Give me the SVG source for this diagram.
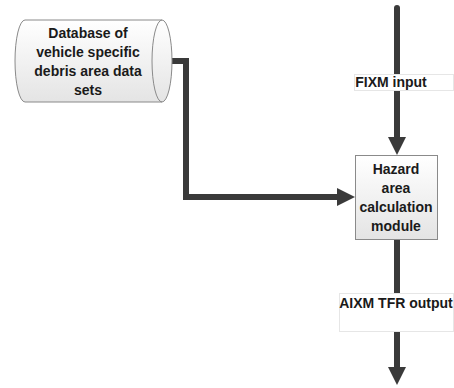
<svg xmlns="http://www.w3.org/2000/svg" width="454" height="388" viewBox="0 0 454 388">
<defs>
<linearGradient id="g" x1="0" y1="0" x2="0" y2="1"><stop offset="0" stop-color="#ffffff"/><stop offset="1" stop-color="#e4e4e4"/></linearGradient>
<marker id="ah" markerUnits="userSpaceOnUse" markerWidth="20" markerHeight="20" refX="8" refY="9" orient="auto"><path d="M0,0 L18,9 L0,18 Z" fill="#3a3a3a"/></marker>
</defs>
<style>
.t{font-family:"Liberation Sans",Arial,sans-serif;font-weight:bold;font-size:14px;fill:#1a1a1a;text-anchor:middle}
.c{fill:none;stroke:#3a3a3a;stroke-width:6;stroke-linejoin:miter}
.n{fill:url(#g);stroke:#8a8a8a;stroke-width:1}
.lb{fill:#ffffff;stroke:#e6e6e6;stroke-width:1}
</style>
<rect width="454" height="388" fill="#ffffff"/>
<g id="connectors">
<path class="c" d="M160,61 H186 V197 H345" stroke-linecap="round" marker-end="url(#ah)"/>
<path class="c" d="M397,8 V145" stroke-linecap="round" marker-end="url(#ah)"/>
<path class="c" d="M397,239 V375" marker-end="url(#ah)"/>
<g id="label-fixm">
<rect class="lb" x="354.5" y="74.5" width="99" height="16"/>
<text class="t" x="391" y="87" text-anchor="middle">FIXM input</text>
</g>
<g id="label-aixm">
<rect class="lb" x="339.5" y="293.5" width="114" height="38"/>
<text class="t" x="396" y="308">AIXM TFR output</text>
</g>
</g>
<g id="database">
<path class="n" d="M25,20 H162 A10,41 0 0 1 162,102 H25 A10,41 0 0 1 25,20 Z"/>
<path d="M162,20 A10,41 0 0 0 162,102" fill="none" stroke="#8a8a8a" stroke-width="1"/>
<text class="t" x="88" y="38">Database of</text>
<text class="t" x="88" y="57">vehicle specific</text>
<text class="t" x="88" y="76">debris area data</text>
<text class="t" x="88" y="95">sets</text>
</g>
<g id="hazard">
<rect class="n" x="355.5" y="155.5" width="82" height="84"/>
<text class="t" x="396" y="174">Hazard</text>
<text class="t" x="396" y="193">area</text>
<text class="t" x="396" y="212">calculation</text>
<text class="t" x="396" y="231">module</text>
</g>
</svg>
